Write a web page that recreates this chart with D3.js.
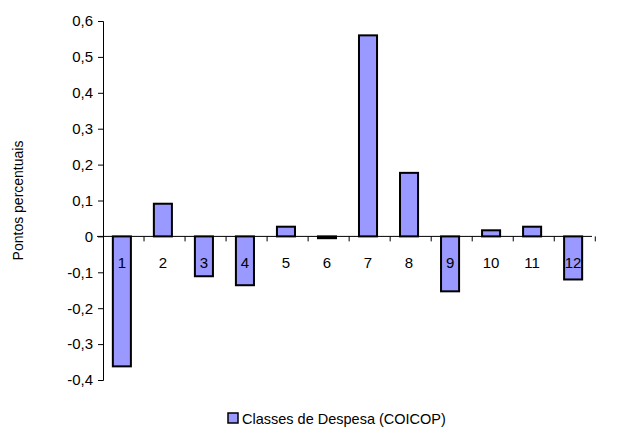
<!DOCTYPE html>
<html><head><meta charset="utf-8">
<script src="https://cdn.jsdelivr.net/npm/d3@7"></script>
<style>body{margin:0;background:#fff}text{font-family:Arial,"Liberation Sans",sans-serif;fill:#000}</style>
</head><body><div id="chart"></div>
<script>
const categories = ["1","2","3","4","5","6","7","8","9","10","11","12"];
const values = [-0.362, 0.091, -0.111, -0.136, 0.027, -0.005, 0.56, 0.177, -0.153, 0.017, 0.027, -0.12];
const yTicks = [-0.4, -0.3, -0.2, -0.1, 0, 0.1, 0.2, 0.3, 0.4, 0.5, 0.6];

const width = 618, height = 430;
const margin = {left: 103, right: 26, top: 21, bottom: 50};

const svg = d3.select("#chart").append("svg")
    .attr("width", width).attr("height", height);

const x = d3.scaleBand().domain(categories)
    .range([margin.left, width - margin.right])
    .paddingInner(0.56).paddingOuter(0.24);
const y = d3.scaleLinear().domain([-0.4, 0.6])
    .range([height - margin.bottom, margin.top]);

svg.selectAll("rect.bar")
    .data(values)
    .join("rect")
    .attr("class", "bar")
    .attr("x", (d, i) => x(categories[i]))
    .attr("width", x.bandwidth())
    .attr("y", d => y(Math.max(0, d)))
    .attr("height", d => Math.abs(y(d) - y(0)))
    .attr("fill", "#9999ff")
    .attr("stroke", "#000")
    .attr("stroke-width", 2);

const yAxis = svg.append("g")
    .attr("transform", `translate(${margin.left},0)`)
    .call(d3.axisLeft(y).tickValues(yTicks).tickSize(5)
        .tickFormat(d => d === 0 ? "0" : d3.format(".1f")(d).replace(".", ",").replace("−", "-")));
yAxis.selectAll("text").attr("font-size", 15).attr("dx", -2);

// x axis at zero, ticks between categories
const step = x.step();
const bounds = d3.range(categories.length + 1).map(i => margin.left + i * step);
const xg = svg.append("g");
xg.append("line")
    .attr("x1", margin.left - 6).attr("x2", width - margin.right)
    .attr("y1", y(0)).attr("y2", y(0)).attr("stroke", "#000");
xg.selectAll("line.t").data(bounds.slice(1)).join("line")
    .attr("class", "t")
    .attr("x1", d => d).attr("x2", d => d)
    .attr("y1", y(0)).attr("y2", y(0) + 5).attr("stroke", "#000");
xg.selectAll("text").data(categories).join("text")
    .attr("x", d => x(d) + x.bandwidth() / 2)
    .attr("y", y(0) + 32)
    .attr("text-anchor", "middle")
    .attr("font-size", 15)
    .text(d => d);

svg.selectAll(".domain").attr("stroke", "#000");

svg.append("text")
    .attr("transform", `translate(23,${(margin.top + height - margin.bottom) / 2}) rotate(-90)`)
    .attr("text-anchor", "middle")
    .attr("font-size", 14)
    .text("Pontos percentuais");

const legend = svg.append("g").attr("transform", "translate(228,413)");
legend.append("rect").attr("width", 10).attr("height", 10)
    .attr("fill", "#9999ff").attr("stroke", "#000").attr("stroke-width", 1.5);
legend.append("text").attr("x", 14).attr("y", 11).attr("font-size", 14.5)
    .text("Classes de Despesa (COICOP)");
</script></body></html>
